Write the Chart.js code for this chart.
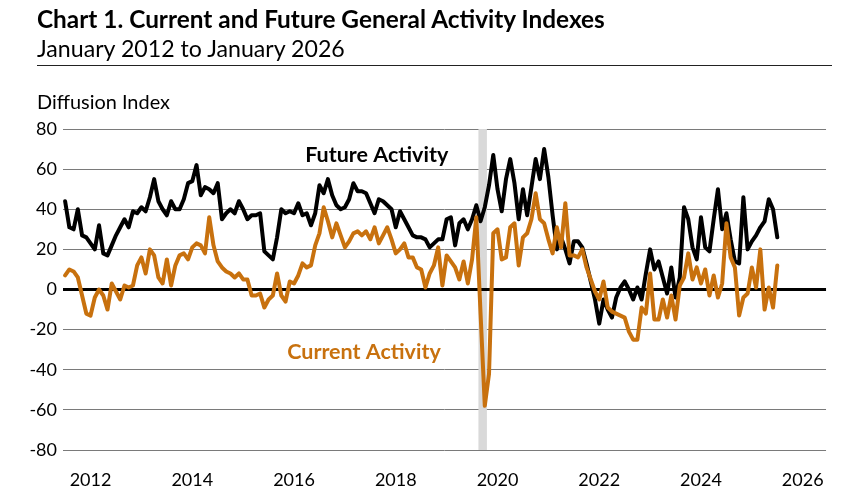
<!DOCTYPE html>
<html><head><meta charset="utf-8">
<script src="https://cdn.jsdelivr.net/npm/chart.js@4"></script>
<style>
html,body{margin:0;padding:0;background:#fff;width:843px;height:503px;overflow:hidden;font-family:Lato,"Open Sans",sans-serif;}
#wrap{position:relative;width:843px;height:503px;}
canvas{position:absolute;left:0;top:0;}
.t{position:absolute;white-space:nowrap;color:#000;line-height:1;font-family:Lato,"Open Sans",sans-serif;}
</style></head><body>
<div id="wrap">
<canvas id="c" width="843" height="503"></canvas>
<div class="t" id="title" style="left:37px;top:7px;font-weight:700;font-size:21px;">Chart 1. Current and Future General Activity Indexes</div>
<div class="t" id="sub" style="left:37px;top:37px;font-size:21px;">January 2012 to January 2026</div>
<div id="rule" style="position:absolute;left:37px;top:65px;width:795px;height:1px;background:#222;"></div>
<div class="t" id="ylab" style="left:37px;top:92px;font-size:18px;">Diffusion Index</div>
</div>
<script>
// ---- data (monthly, January 2012 .. January 2026) ----
const startYear = 2012;
const futureActivity = [
 44,31,30,40,27,26,23,20,32,18,17,22,
 27,31,35,31,39,38,41,39,46,55,44,40,
 37,44,40,40,45,53,54,62,47,51,50,48,
 53,35,38,40,38,44,40,35,37,37,38,19,
 17,15,26,40,38,39,38,43,37,38,32,38,
 52,48,55,47,42,40,41,45,53,49,49,48,
 43,38,45,44,42,40,31,39,35,31,27,26,
 26,25,21,23,25,25,35,36,22,33,35,30,
 35,42,34,41,52,67,50,39,55,65,53,35,
 50,37,51,65,55,70,56,37,20,26,20,13,
 24,24,21,13,4,-5,-17,-5,-10,-14,-4,1,
 4,0,-5,1,-5,8,20,10,14,6,-2,11,
 -4,6,41,35,21,15,36,21,19,35,50,30,
 38,25,14,13,46,20,24,27,31,34,45,40,
 26
];
const currentActivity = [
 7,10,9,6,-3,-12,-13,-4,0,-3,-10,3,
 -1,-5,2,1,2,12,16,8,20,17,6,3,
 15,2,12,17,18,15,21,23,22,18,36,22,
 14,11,9,8,6,8,5,5,-3,-3,-2,-9,
 -5,-3,8,-3,-6,4,3,7,13,11,12,22,
 28,41,34,26,33,27,21,24,28,29,27,29,
 25,31,23,27,31,25,18,20,23,16,16,11,
 10,1,8,12,21,2,17,14,11,5,14,3,
 15,36,-12,-58,-42,28,30,15,16,31,33,12,
 26,28,35,48,35,33,25,18,31,21,43,17,
 17,16,20,11,5,-1,-5,4,-9,-11,-12,-13,
 -14,-21,-25,-25,-9,-12,8,-15,-15,-5,-14,-3,
 -15,2,6,18,5,11,3,10,-3,7,-4,3,
 33,16,11,-13,-4,-2,11,1,20,-10,1,-9,
 12
];
const xTickLabels = ['2012','2014','2016','2018','2020','2022','2024','2026'];
const recessionMonths = [97.5, 99.5]; // shaded span (month index from Jan 2012)
const yMin = -80, yMax = 80, yStep = 20;

const ORANGE = '#C8710E';
const FONT = 'Lato, "Open Sans", sans-serif';

// fit HTML text widths to the reference
function fit(id, w){ const el=document.getElementById(id); const s=parseFloat(el.style.fontSize); el.style.fontSize=(s*w/el.getBoundingClientRect().width)+'px'; }
fit('title', 568); fit('sub', 308); fit('ylab', 133);

const toPts = arr => arr.map((v,i)=>({x:i,y:v}));

const bandPlugin = {
  id:'band',
  beforeDatasetsDraw(chart){
    const {ctx, chartArea:a, scales:{x}} = chart;
    const x0 = x.getPixelForValue(recessionMonths[0]), x1 = x.getPixelForValue(recessionMonths[1]);
    ctx.save(); ctx.fillStyle='#d9d9d9'; ctx.fillRect(x0, a.top, x1-x0, a.bottom-a.top); ctx.restore();
  }
};
const zeroPlugin = {
  id:'zero',
  beforeDatasetsDraw(chart){
    const {ctx, chartArea:a, scales:{y}} = chart;
    const py = y.getPixelForValue(0);
    ctx.save(); ctx.strokeStyle='#000'; ctx.lineWidth=2.8;
    ctx.beginPath(); ctx.moveTo(a.left, py); ctx.lineTo(a.right, py); ctx.stroke(); ctx.restore();
  }
};
const labelPlugin = {
  id:'labels',
  afterDatasetsDraw(chart){
    const {ctx, scales:{x,y}} = chart;
    ctx.save(); ctx.font = 'bold 21.5px '+FONT; ctx.textAlign='center'; ctx.textBaseline='middle';
    ctx.fillStyle='#000'; ctx.fillText('Future Activity', x.getPixelForValue(73.5), y.getPixelForValue(67));
    ctx.fillStyle=ORANGE; ctx.fillText('Current Activity', x.getPixelForValue(70.5), y.getPixelForValue(-31));
    ctx.restore();
  }
};

new Chart(document.getElementById('c'), {
  type:'line',
  data:{ datasets:[
    {label:'Current Activity', data:toPts(currentActivity), borderColor:ORANGE, borderWidth:4, pointRadius:0, tension:0, borderJoinStyle:'round', borderCapStyle:'round'},
    {label:'Future Activity', data:toPts(futureActivity), borderColor:'#000', borderWidth:4, pointRadius:0, tension:0, borderJoinStyle:'round', borderCapStyle:'round'}
  ]},
  options:{
    responsive:false, animation:false, devicePixelRatio:1,
    layout:{padding:{top:129, right:13, left:0, bottom:0}},
    plugins:{legend:{display:false}, tooltip:{enabled:false}},
    scales:{
      x:{ type:'linear', min:-0.5, max:179.5,
        grid:{display:false, drawTicks:false}, border:{display:false},
        afterBuildTicks(s){ s.ticks = xTickLabels.map((l,k)=>({value: (parseInt(l)-startYear)*12 + 6})); },
        afterFit(s){ s.height = 53; },
        ticks:{ autoSkip:false, maxRotation:0, padding:19, color:'#000', font:{family:FONT, size:18},
          callback:(v)=>{ const k = xTickLabels.findIndex(l=>(parseInt(l)-startYear)*12+6===v); return k>=0?xTickLabels[k]:''; } }
      },
      y:{ min:yMin, max:yMax,
        grid:{ drawTicks:false, color:(c)=>c.tick && c.tick.value===0 ? 'rgba(0,0,0,0)' : '#7a7a7a', lineWidth:1 },
        border:{display:false},
        afterFit(s){ s.width = 63; },
        ticks:{ stepSize:yStep, padding:6, color:'#000', font:{family:FONT, size:18} }
      }
    }
  },
  plugins:[bandPlugin, zeroPlugin, labelPlugin]
});
</script>
</body></html>
